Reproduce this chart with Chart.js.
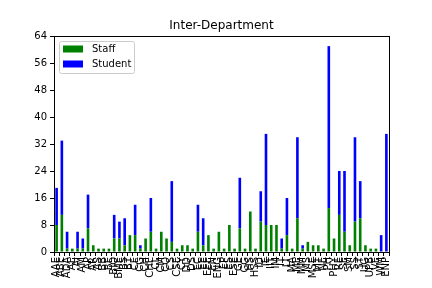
<!DOCTYPE html>
<html>
<head>
<meta charset="utf-8">
<script src="https://cdn.jsdelivr.net/npm/chart.js@4"></script>
<style>
  html, body { margin: 0; padding: 0; background: #fff; }
  #wrap { width: 432px; height: 288px; }
</style>
</head>
<body>
<div id="wrap"><canvas id="chart" width="432" height="288"></canvas></div>
<script>
    const departments = [
      'AAE', 'ABE', 'ADA', 'AE', 'AI', 'AM', 'AP', 'AR', 'AS', 'BB', 'BE', 'BIO', 'BME', 'BS', 'BT', 'CE',
      'CG', 'CH', 'CHE', 'CL', 'CM', 'CO', 'CS', 'CSE', 'CY', 'DD', 'DS', 'EC', 'EE', 'EEE', 'EN', 'ENG',
      'EP', 'ES', 'ESE', 'GE', 'GG', 'HS', 'HSS', 'ID', 'IE', 'IIT', 'IM', 'IT', 'LT', 'MA', 'ME', 'MM',
      'MS', 'MSE', 'MT', 'NE', 'PH', 'PHY', 'RE', 'SE', 'SM', 'SS', 'ST', 'UG', 'UPB', 'VE', 'WM', 'ENP'
    ];
    const staff = [
      8, 11, 1, 1, 1, 1, 7, 2, 1, 1, 1, 4, 4, 2, 5, 5,
      1, 4, 6, 1, 6, 4, 3, 1, 2, 2, 1, 6, 2, 5, 1, 6,
      1, 8, 1, 7, 1, 12, 1, 9, 8, 8, 8, 1, 5, 1, 10, 1,
      3, 2, 2, 1, 13, 4, 11, 6, 2, 9, 10, 2, 1, 1, 0, 0
    ];
    const students = [
      11, 22, 5, 0, 5, 3, 10, 0, 0, 0, 0, 7, 5, 8, 0, 9,
      1, 0, 10, 0, 0, 0, 18, 0, 0, 0, 0, 8, 8, 0, 0, 0,
      0, 0, 0, 15, 0, 0, 0, 9, 27, 0, 0, 3, 11, 0, 24, 1,
      0, 0, 0, 0, 48, 0, 13, 18, 0, 25, 11, 0, 0, 0, 5, 35
    ];
    const yTicks = [0, 8, 16, 24, 32, 40, 48, 56, 64];
    const chartTitle = 'Inter-Department';

    const font = { family: 'DejaVu Sans', size: 10 };

    // box, title and legend drawn the matplotlib way (legend inside the axes)
    const framePlugin = {
      id: 'frame',
      afterDraw(chart) {
        const ctx = chart.ctx;
        const a = chart.chartArea;
        ctx.save();
        ctx.strokeStyle = '#000';
        ctx.lineWidth = 1;
        ctx.strokeRect(Math.round(a.left) + 0.5, Math.round(a.top) + 0.5,
          Math.round(a.right - a.left), Math.round(a.bottom - a.top));

        ctx.fillStyle = '#000';
        ctx.font = '12px "DejaVu Sans"';
        ctx.textAlign = 'center';
        ctx.textBaseline = 'alphabetic';
        ctx.fillText(chartTitle, (a.left + a.right) / 2, a.top - 7);

        const x0 = a.left + 5, y0 = a.top + 5;
        ctx.textAlign = 'left';
        ctx.fillStyle = 'rgba(255,255,255,0.8)';
        ctx.strokeStyle = '#cccccc';
        ctx.beginPath();
        ctx.roundRect(x0 + 0.5, y0 + 0.5, 75, 32, 2);
        ctx.fill();
        ctx.stroke();
        ctx.font = '10px "DejaVu Sans"';
        ctx.textBaseline = 'middle';
        chart.data.datasets.forEach((ds, i) => {
          const yy = y0 + 8 + i * 15;
          ctx.fillStyle = ds.backgroundColor;
          ctx.fillRect(x0 + 4, yy - 3.5, 20, 7);
          ctx.fillStyle = '#000';
          ctx.fillText(ds.label, x0 + 33, yy + 0.5);
        });
        ctx.restore();
      }
    };

    const ctx = document.getElementById('chart').getContext('2d');
    const chart = new Chart(ctx, {
      type: 'bar',
      data: {
        labels: departments,
        datasets: [
          { label: 'Staff', data: staff, backgroundColor: '#008000' },
          { label: 'Student', data: students, backgroundColor: '#0000ff' }
        ]
      },
      options: {
        responsive: false,
        animation: false,
        layout: { padding: { left: 0, right: 43, top: 36, bottom: 0 } },
        datasets: { bar: { barPercentage: 0.5, categoryPercentage: 1 } },
        plugins: {
          legend: { display: false },
          tooltip: { enabled: false },
          title: { display: false }
        },
        scales: {
          x: {
            stacked: true,
            grid: { display: true, drawOnChartArea: false, tickLength: 4, color: '#000' },
            border: { display: true, color: '#000' },
            ticks: {
              color: '#000', font: font, autoSkip: false,
              maxRotation: 90, minRotation: 90, padding: 1
            },
            afterFit(scale) { scale.height = 36; }
          },
          y: {
            stacked: true,
            min: 0,
            max: 64,
            grid: { display: true, drawOnChartArea: false, tickLength: 4, color: '#000' },
            border: { display: true, color: '#000' },
            afterBuildTicks(scale) { scale.ticks = yTicks.map(v => ({ value: v })); },
            ticks: { color: '#000', font: font, padding: 3 },
            afterFit(scale) { scale.width = 54; }
          }
        }
      },
      plugins: [framePlugin]
    });
</script>
</body>
</html>
